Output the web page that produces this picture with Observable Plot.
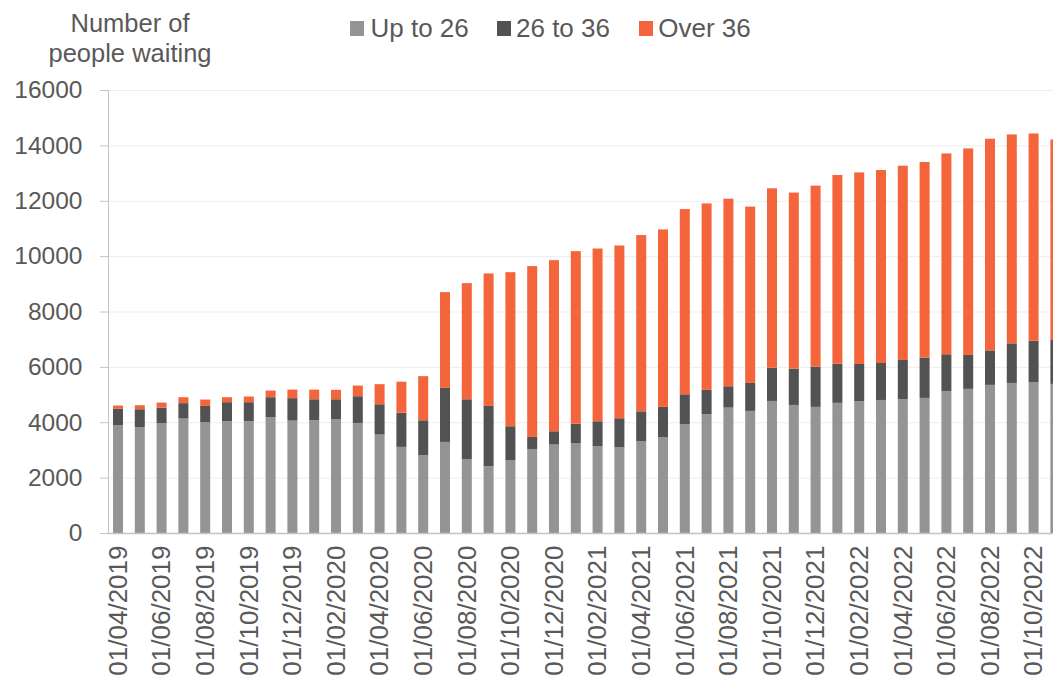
<!DOCTYPE html>
<html>
<head>
<meta charset="utf-8">
<script src="https://cdn.jsdelivr.net/npm/d3@7"></script>
<script src="https://cdn.jsdelivr.net/npm/@observablehq/plot@0.6"></script>
<style>
  html, body { margin: 0; padding: 0; background: #fff; overflow: hidden; }
  body { font-family: "Liberation Sans", Arial, sans-serif; color: #595959; }
  #header { position: relative; width: 1053px; height: 70px; }
  #title { position: absolute; left: 30px; top: 7.5px; width: 200px; text-align: center; font-size: 25.5px; line-height: 30px; }
  .lg { position: absolute; top: 15px; font-size: 26px; line-height: 26px; white-space: nowrap; }
  .sw { position: absolute; top: 21px; width: 14px; height: 15px; }
  #chart svg { display: block; }
</style>
</head>
<body>
<div id="header">
  <div id="title">Number of<br>people waiting</div>
</div>
<div id="chart"></div>
<script>
// Monthly snapshots (last one is cut off by the right edge)
const months = [
  "01/04/2019","01/05/2019","01/06/2019","01/07/2019","01/08/2019","01/09/2019","01/10/2019","01/11/2019","01/12/2019",
  "01/01/2020","01/02/2020","01/03/2020","01/04/2020","01/05/2020","01/06/2020","01/07/2020","01/08/2020","01/09/2020","01/10/2020","01/11/2020","01/12/2020",
  "01/01/2021","01/02/2021","01/03/2021","01/04/2021","01/05/2021","01/06/2021","01/07/2021","01/08/2021","01/09/2021","01/10/2021","01/11/2021","01/12/2021",
  "01/01/2022","01/02/2022","01/03/2022","01/04/2022","01/05/2022","01/06/2022","01/07/2022","01/08/2022","01/09/2022","01/10/2022","01/11/2022"
];
const tickLabels = [
  "01/04/2019","01/06/2019","01/08/2019","01/10/2019","01/12/2019","01/02/2020","01/04/2020","01/06/2020","01/08/2020","01/10/2020","01/12/2020",
  "01/02/2021","01/04/2021","01/06/2021","01/08/2021","01/10/2021","01/12/2021","01/02/2022","01/04/2022","01/06/2022","01/08/2022","01/10/2022"
];
const series = ["Up to 26", "26 to 36", "Over 36"];
const colors = ["#949494", "#525252", "#f5653b"];

const upTo26 = [3890,3820,3965,4135,4000,4035,4035,4180,4060,4075,4110,3975,3555,3110,2815,3290,2665,2410,2625,3035,3195,
  3240,3130,3095,3315,3460,3930,4295,4530,4410,4770,4625,4555,4700,4760,4805,4830,4880,5130,5205,5350,5420,5455,5385];
const from26to36 = [605,650,565,555,590,690,690,725,810,755,720,965,1095,1235,1255,1950,2165,2180,1230,435,480,
  710,905,1050,1080,1095,1080,875,770,1010,1200,1310,1455,1415,1345,1335,1420,1455,1325,1225,1245,1430,1490,1585];
const over36 = [110,145,180,215,230,180,205,240,310,350,340,385,725,1120,1595,3460,4195,4785,5565,6170,6180,
  6230,6240,6240,6365,6410,6690,6735,6775,6370,6480,6360,6535,6815,6920,6970,7015,7065,7255,7460,7645,7545,7485,7245];
const yTicks = [0,2000,4000,6000,8000,10000,12000,14000,16000];

const valuesBySeries = [upTo26, from26to36, over36];
const rows = [];
series.forEach((s, i) => months.forEach((m, j) => rows.push({month: m, group: s, value: valuesBySeries[i][j]})));

// legend (HTML, above the SVG)
const header = document.getElementById("header");
const legendPos = [{sw: 350, tx: 370.5}, {sw: 497, tx: 516}, {sw: 639, tx: 658.3}];
series.forEach((s, i) => {
  const sw = document.createElement("div");
  sw.className = "sw"; sw.style.left = legendPos[i].sw + "px"; sw.style.background = colors[i];
  header.appendChild(sw);
  const t = document.createElement("div");
  t.className = "lg"; t.style.left = legendPos[i].tx + "px"; t.textContent = s;
  header.appendChild(t);
});

const chart = Plot.plot({
  width: 1053,
  height: 613,
  marginTop: 20,
  marginBottom: 150,
  marginLeft: 108,
  marginRight: 0,
  style: {fontFamily: "'Liberation Sans', Arial, sans-serif", color: "#595959", background: "#fff"},
  x: {type: "band", domain: months, range: [107.1, 1066.3], paddingInner: 0.541, paddingOuter: 0.2705},
  y: {domain: [0, 16000]},
  color: {domain: series, range: colors},
  marks: [
    Plot.gridY(yTicks, {stroke: "#ededed", strokeOpacity: 1}),
    Plot.barY(rows, {x: "month", y: "value", fill: "group", order: series}),
    Plot.ruleY([0], {stroke: "#c4c4c4", strokeWidth: 1.3}),
    Plot.frame({anchor: "left", stroke: "#c4c4c4"}),
    Plot.axisY({ticks: yTicks, tickFormat: d3.format("d"), tickSize: 8, tickPadding: 18, fontSize: 24.5, stroke: "#c4c4c4", fill: "#595959", label: null}),
    Plot.axisX({ticks: tickLabels, tickRotate: -90, tickSize: 0, tickPadding: 12, fontSize: 26, fill: "#595959", label: null})
  ]
});
document.getElementById("chart").appendChild(chart);
</script>
</body>
</html>
